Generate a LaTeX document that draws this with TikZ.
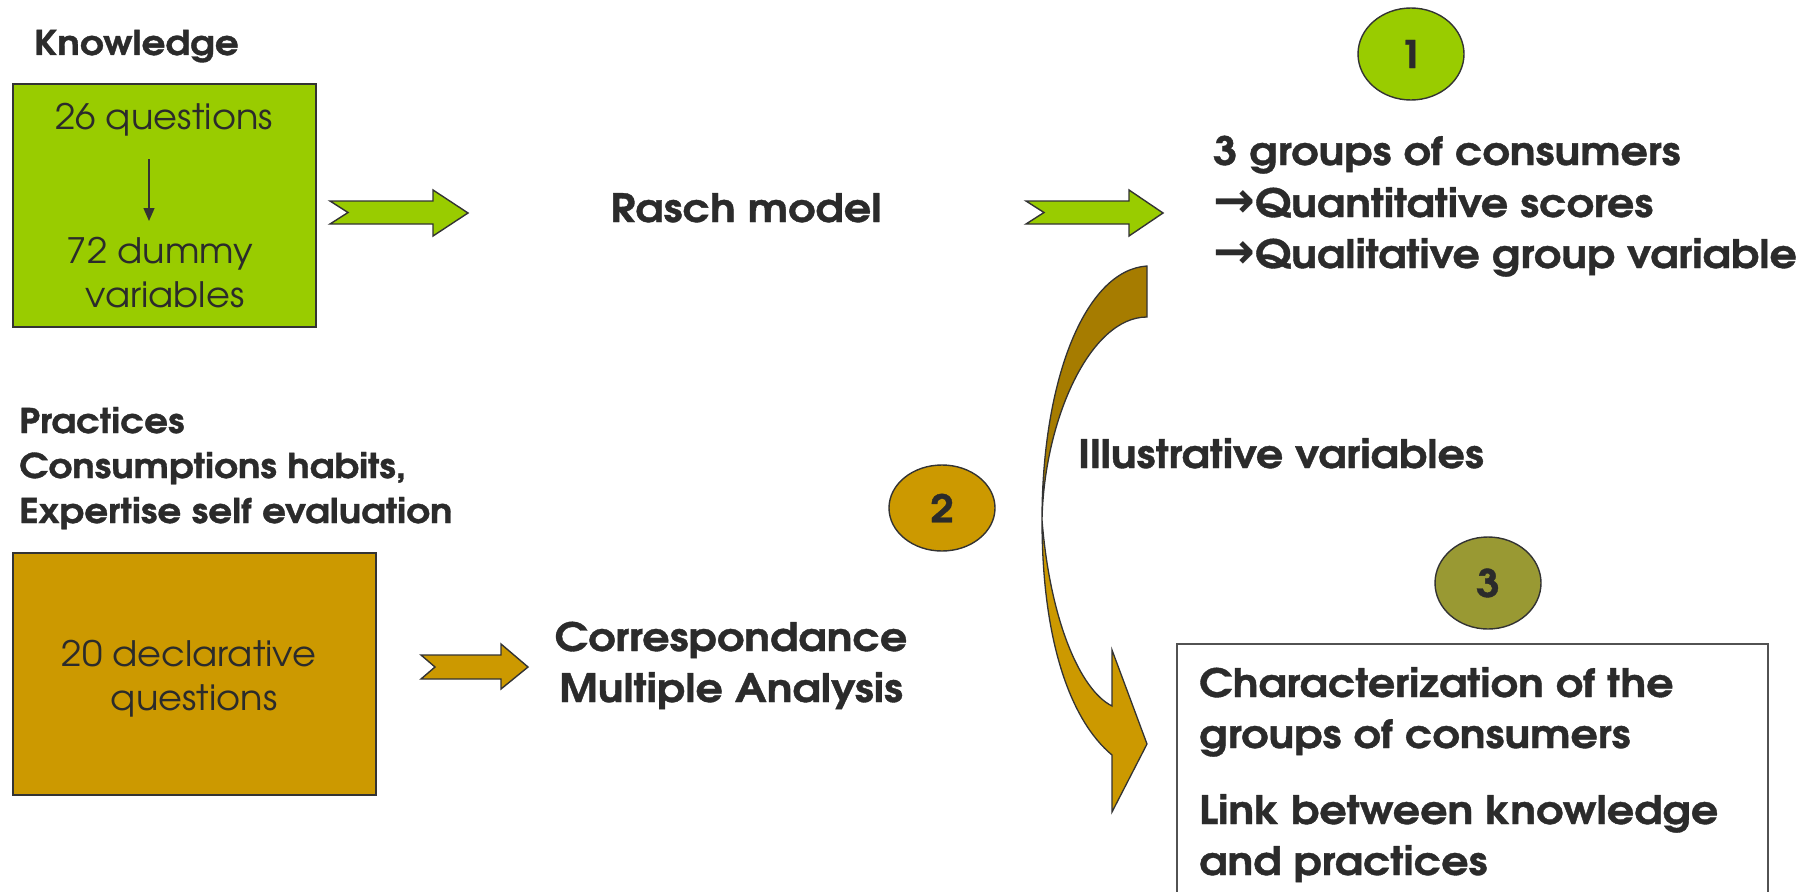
\documentclass[tikz,border=0pt]{standalone}
\usepackage{fontspec}
\setmainfont{TeX Gyre Adventor}[UprightFeatures={FakeStretch=1.05}, BoldFeatures={FakeStretch=1.1, FakeBold=1}]
\newfontfamily\symf{DejaVu Sans}
\usetikzlibrary{shapes.geometric, arrows.meta}
\definecolor{kgreen}{HTML}{99CC00}
\definecolor{kbrown}{HTML}{CC9900}
\definecolor{kdark}{HTML}{A67C00}
\definecolor{kolive}{HTML}{999933}
\definecolor{ktext}{HTML}{2B2B2B}
\definecolor{kline}{HTML}{333333}
\newcommand{\rarr}{{\symf\fontsize{50}{50}\selectfont →}}
\tikzset{
  bigb/.style={inner sep=0pt, text=ktext, font=\fontsize{39}{39}\selectfont\bfseries},
  midb/.style={inner sep=0pt, text=ktext, font=\fontsize{34}{34}\selectfont\bfseries},
  reg/.style={inner sep=0pt, text=ktext, font=\fontsize{35}{35}\selectfont},
  blockarrow/.style={draw=kline, line width=1.4pt, line join=miter},
  numcirc/.style={ellipse, draw=kline, line width=1.4pt, minimum width=106pt, minimum height=92pt, inner sep=0pt, text=ktext, font=\fontsize{38}{38}\selectfont\bfseries},
}
\begin{document}
\begin{tikzpicture}[x=1pt, y=-1pt]
\useasboundingbox (0,0) rectangle (1811,891);

% Knowledge block
\node[midb, anchor=base west] (know) at (34,55) {Knowledge};
\draw[draw=kline, line width=1.4pt, fill=kgreen] (13,84) rectangle (316,327);
\node[reg, anchor=base] (q26) at (164,129) {26 questions};
\node[reg, anchor=base] (d72) at (160,263) {72 dummy};
\node[reg, anchor=base] (var) at (165,307) {variables};
\coordinate (sa) at (149,159);
\coordinate (sb) at (149,221);
\draw[kline, line width=1.3pt, -{Triangle[length=13pt, width=11pt]}] (sa) -- (sb);

% green arrows
\draw[blockarrow, fill=kgreen] (330,201) -- (433,201) -- (433,190) -- (468,213) -- (433,236) -- (433,224) -- (330,224) -- (348,212.5) -- cycle;
\node[bigb, anchor=base] (rasch) at (746,222) {Rasch model};
\draw[blockarrow, fill=kgreen] (1026,201) -- (1129,201) -- (1129,190) -- (1163,213) -- (1129,236) -- (1129,224) -- (1026,224) -- (1044,212.5) -- cycle;

% circle 1 and results
\node[numcirc, fill=kgreen] (c1) at (1411,54) {1};
\node[bigb, anchor=base west] (g1) at (1213,165) {3 groups of consumers};
\node[bigb, anchor=base west] (g2) at (1213,217) {\rarr Quantitative scores};
\node[bigb, anchor=base west] (g3) at (1213,268) {\rarr Qualitative group variable};

% Practices block
\node[midb, anchor=base west] (p1) at (19,433) {Practices};
\node[midb, anchor=base west] (p2) at (19,478) {Consumptions habits,};
\node[midb, anchor=base west] (p3) at (19,523) {Expertise self evaluation};
\draw[draw=kline, line width=1.4pt, fill=kbrown] (13,553) rectangle (376,795);
\node[reg, anchor=base] (decl) at (189,666) {20 declarative};
\node[reg, anchor=base] (qs) at (194,710) {questions};

\draw[blockarrow, fill=kbrown] (421,655) -- (501,655) -- (501,644) -- (528,667) -- (501,689) -- (501,679) -- (421,679) -- (435,667) -- cycle;
\node[bigb, anchor=base] (cor) at (731,651) {Correspondance};
\node[bigb, anchor=base] (mul) at (731,702) {Multiple Analysis};

% circle 2
\node[numcirc, fill=kbrown, minimum height=86pt] (c2) at (942,508) {2};

% curved arrow
\filldraw[fill=kdark, draw=kline, line width=1.3pt] (1147,266) .. controls (1085,270) and (1042,380) .. (1042,520)
  .. controls (1044,420) and (1090,317) .. (1147,317) -- cycle;
\filldraw[fill=kbrown, draw=kline, line width=1.3pt, line join=miter] (1042,520) .. controls (1042,640) and (1070,720) .. (1112,755)
  -- (1112,812) -- (1147,744) -- (1112,650) -- (1112,706)
  .. controls (1080,690) and (1050,620) .. (1042,520) -- cycle;
\node[bigb, anchor=base west] (illu) at (1078,468) {Illustrative variables};

% circle 3 and final box
\node[numcirc, fill=kolive] (c3) at (1488,583) {3};
\draw[draw=kline!85, line width=1.4pt] (1177,895) -- (1177,644) -- (1768,644) -- (1768,895);
\node[bigb, anchor=base west] (ch1) at (1199,697) {Characterization of the};
\node[bigb, anchor=base west] (ch2) at (1199,748) {groups of consumers};
\node[bigb, anchor=base west] (ln1) at (1199,824) {Link between knowledge};
\node[bigb, anchor=base west] (ln2) at (1199,875) {and practices};
\end{tikzpicture}
\end{document}
